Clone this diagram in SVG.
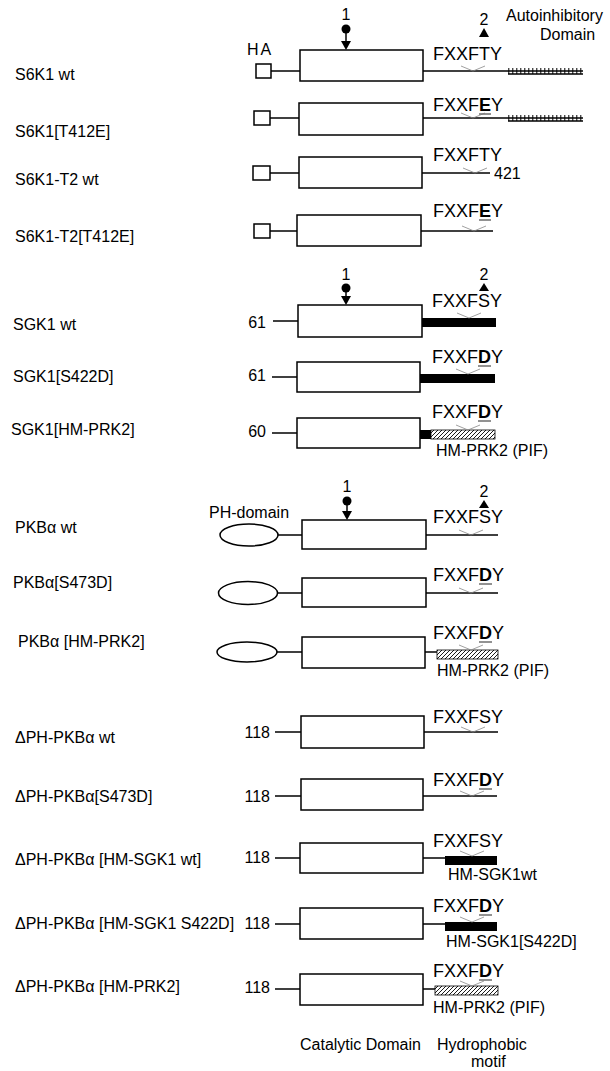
<svg xmlns="http://www.w3.org/2000/svg" width="610" height="1071" viewBox="0 0 610 1071">
<style>
text{font-family:"Liberation Sans",Arial,Helvetica,sans-serif;fill:#000}
.lbl{font-size:16px}
.num{font-size:16px}
.mot{font-size:18px}
.b{font-weight:bold}
.box{fill:#fff;stroke:#000;stroke-width:1.5}
.ln{stroke:#000;stroke-width:1.5;fill:none}
.chev{stroke:#888;stroke-width:0.8;fill:none}
.ul{stroke:#777;stroke-width:1.6}
.bar{fill:#000}
.hat{fill:url(#diag);stroke:#000;stroke-width:0.8}
.ell{fill:#fff;stroke:#000;stroke-width:1.5}
</style>
<defs>
<pattern id="diag" patternUnits="userSpaceOnUse" width="4" height="4">
<path d="M-1,1 l2,-2 M0,4 l4,-4 M3,5 l2,-2" stroke="#000" stroke-width="0.9"/>
</pattern>
<pattern id="ticks" patternUnits="userSpaceOnUse" width="4" height="8">
<line x1="0.8" y1="0" x2="0.8" y2="8" stroke="#000" stroke-width="1"/>
</pattern>
</defs>

<!-- S6K1 wt -->
<g id="s6k1-wt">
<text class="lbl" x="15" y="80">S6K1 wt</text>
<text class="lbl" x="247" y="55" letter-spacing="2">HA</text>
<rect class="box" x="256" y="64" width="15" height="14"/>
<line class="ln" x1="271" y1="71" x2="300" y2="71"/>
<rect class="box" x="300" y="50" width="123" height="31"/>
<line class="ln" x1="423" y1="71" x2="583" y2="71"/>
<rect x="508" y="68" width="75" height="6" fill="url(#ticks)"/>
<line class="ln" x1="508" y1="74" x2="583" y2="74" stroke-width="1"/>
<polyline class="chev" points="461,66 473,71 485,66"/>
<text class="mot" x="433" y="60">FXXFTY</text>
<text class="lbl" x="346" y="20" text-anchor="middle">1</text>
<circle cx="346" cy="29" r="4.5" fill="#000"/>
<line class="ln" x1="346" y1="33" x2="346" y2="42" stroke-width="1"/>
<polygon points="341,41 351,41 346,50" fill="#000"/>
<text class="lbl" x="484" y="25" text-anchor="middle">2</text>
<polygon points="479,37 489,37 484,28" fill="#000"/>
<text class="lbl" x="506" y="21">Autoinhibitory</text>
<text class="lbl" x="540" y="40">Domain</text>
</g>

<!-- S6K1[T412E] -->
<g id="s6k1-t412e">
<text class="lbl" x="15" y="137">S6K1[T412E]</text>
<rect class="box" x="254" y="111" width="16" height="14"/>
<line class="ln" x1="270" y1="118" x2="299" y2="118"/>
<rect class="box" x="299" y="103" width="124" height="32"/>
<line class="ln" x1="423" y1="118" x2="583" y2="118"/>
<rect x="508" y="115" width="75" height="6" fill="url(#ticks)"/>
<line class="ln" x1="508" y1="121" x2="583" y2="121" stroke-width="1"/>
<polyline class="chev" points="461,113 473,118 485,113"/>
<text class="mot" x="433" y="111">FXXF<tspan class="b">E</tspan>Y</text>
<line class="ul" x1="479" y1="114" x2="491" y2="114"/>
</g>

<!-- S6K1-T2 wt -->
<g id="s6k1-t2-wt">
<text class="lbl" x="15" y="185">S6K1-T2 wt</text>
<rect class="box" x="253" y="166" width="17" height="14"/>
<line class="ln" x1="270" y1="173" x2="299" y2="173"/>
<rect class="box" x="299" y="157" width="123" height="31"/>
<line class="ln" x1="422" y1="173" x2="490" y2="173"/>
<polyline class="chev" points="463,168 475,173 487,168"/>
<text class="mot" x="433" y="161">FXXFTY</text>
<text class="num" x="494" y="179">421</text>
</g>

<!-- S6K1-T2[T412E] -->
<g id="s6k1-t2-t412e">
<text class="lbl" x="15" y="242">S6K1-T2[T412E]</text>
<rect class="box" x="254" y="224" width="16" height="14"/>
<line class="ln" x1="270" y1="231" x2="297" y2="231"/>
<rect class="box" x="297" y="215" width="124" height="31"/>
<line class="ln" x1="421" y1="231" x2="493" y2="231"/>
<polyline class="chev" points="462,226 474,231 486,226"/>
<text class="mot" x="433" y="217">FXXF<tspan class="b">E</tspan>Y</text>
<line class="ul" x1="479" y1="220" x2="491" y2="220"/>
</g>

<!-- SGK1 wt -->
<g id="sgk1-wt">
<text class="lbl" x="13" y="330">SGK1 wt</text>
<text class="lbl" x="346" y="280" text-anchor="middle">1</text>
<circle cx="346" cy="288" r="4.5" fill="#000"/>
<line class="ln" x1="346" y1="292" x2="346" y2="297" stroke-width="1"/>
<polygon points="341,296 351,296 346,305" fill="#000"/>
<text class="lbl" x="484" y="280" text-anchor="middle">2</text>
<polygon points="479,291 489,291 484,283" fill="#000"/>
<text class="num" x="266" y="328" text-anchor="end">61</text>
<line class="ln" x1="273" y1="321" x2="298" y2="321"/>
<rect class="box" x="298" y="305" width="124" height="32"/>
<rect class="bar" x="422" y="318" width="74" height="9"/>
<polyline class="chev" points="457,313 469,318 481,313"/>
<text class="mot" x="432" y="307">FXXFSY</text>
</g>

<!-- SGK1[S422D] -->
<g id="sgk1-s422d">
<text class="lbl" x="13" y="382">SGK1[S422D]</text>
<text class="num" x="266" y="381" text-anchor="end">61</text>
<line class="ln" x1="272" y1="377" x2="297" y2="377"/>
<rect class="box" x="297" y="362" width="123" height="30"/>
<rect class="bar" x="420" y="374" width="75" height="9"/>
<polyline class="chev" points="456,369 468,374 480,369"/>
<text class="mot" x="432" y="363">FXXF<tspan class="b">D</tspan>Y</text>
<line class="ul" x1="478" y1="366" x2="491" y2="366"/>
</g>

<!-- SGK1[HM-PRK2] -->
<g id="sgk1-hm-prk2">
<text class="lbl" x="11" y="435">SGK1[HM-PRK2]</text>
<text class="num" x="266" y="437" text-anchor="end">60</text>
<line class="ln" x1="272" y1="433" x2="297" y2="433"/>
<rect class="box" x="297" y="418" width="123" height="30"/>
<rect class="bar" x="420" y="430" width="11" height="9"/>
<rect class="hat" x="431" y="430" width="64" height="9"/>
<polyline class="chev" points="456,425 468,430 480,425"/>
<text class="mot" x="432" y="418">FXXF<tspan class="b">D</tspan>Y</text>
<line class="ul" x1="478" y1="421" x2="491" y2="421"/>
<text class="lbl" x="436" y="456">HM-PRK2 (PIF)</text>
</g>

<!-- PKBa wt -->
<g id="pkb-wt">
<text class="lbl" x="15" y="533">PKBα wt</text>
<text class="lbl" x="209" y="518">PH-domain</text>
<text class="lbl" x="347" y="492" text-anchor="middle">1</text>
<circle cx="347" cy="501" r="4.5" fill="#000"/>
<line class="ln" x1="347" y1="505" x2="347" y2="512" stroke-width="1"/>
<polygon points="342,511 352,511 347,520" fill="#000"/>
<text class="lbl" x="484" y="497" text-anchor="middle">2</text>
<polygon points="479,508 489,508 484,500" fill="#000"/>
<ellipse class="ell" cx="249" cy="535" rx="29" ry="11"/>
<line class="ln" x1="278" y1="535" x2="302" y2="535"/>
<rect class="box" x="302" y="520" width="124" height="29"/>
<line class="ln" x1="426" y1="535" x2="498" y2="535"/>
<polyline class="chev" points="459,530 471,535 483,530"/>
<text class="mot" x="433" y="523">FXXFSY</text>
</g>

<!-- PKBa[S473D] -->
<g id="pkb-s473d">
<text class="lbl" x="13" y="588">PKBα[S473D]</text>
<ellipse class="ell" cx="248" cy="593" rx="29.5" ry="11.5"/>
<line class="ln" x1="277" y1="593" x2="302" y2="593"/>
<rect class="box" x="302" y="578" width="124" height="29"/>
<line class="ln" x1="426" y1="593" x2="498" y2="593"/>
<polyline class="chev" points="459,588 471,593 483,588"/>
<text class="mot" x="433" y="581">FXXF<tspan class="b">D</tspan>Y</text>
<line class="ul" x1="479" y1="584" x2="492" y2="584"/>
</g>

<!-- PKBa [HM-PRK2] -->
<g id="pkb-hm-prk2">
<text class="lbl" x="18" y="647">PKBα [HM-PRK2]</text>
<ellipse class="ell" cx="247" cy="652" rx="30" ry="10"/>
<line class="ln" x1="277" y1="652" x2="302" y2="652"/>
<rect class="box" x="302" y="637" width="123" height="31"/>
<line class="ln" x1="425" y1="652" x2="437" y2="652"/>
<rect class="hat" x="437" y="650" width="61" height="9"/>
<polyline class="chev" points="459,645 471,650 483,645"/>
<text class="mot" x="433" y="639">FXXF<tspan class="b">D</tspan>Y</text>
<line class="ul" x1="479" y1="642" x2="492" y2="642"/>
<text class="lbl" x="437" y="676">HM-PRK2 (PIF)</text>
</g>

<!-- dPH-PKBa wt -->
<g id="dph-wt">
<text class="lbl" x="15" y="743">ΔPH-PKBα wt</text>
<text class="num" x="270" y="738" text-anchor="end">118</text>
<line class="ln" x1="275" y1="732" x2="301" y2="732"/>
<rect class="box" x="301" y="716" width="123" height="32"/>
<line class="ln" x1="424" y1="732" x2="498" y2="732"/>
<polyline class="chev" points="461,727 473,732 485,727"/>
<text class="mot" x="433" y="723">FXXFSY</text>
</g>

<!-- dPH-PKBa[S473D] -->
<g id="dph-s473d">
<text class="lbl" x="15" y="802">ΔPH-PKBα[S473D]</text>
<text class="num" x="270" y="802" text-anchor="end">118</text>
<line class="ln" x1="275" y1="796" x2="301" y2="796"/>
<rect class="box" x="301" y="779" width="122" height="31"/>
<line class="ln" x1="423" y1="796" x2="497" y2="796"/>
<polyline class="chev" points="460,791 472,796 484,791"/>
<text class="mot" x="433" y="786">FXXF<tspan class="b">D</tspan>Y</text>
<line class="ul" x1="479" y1="789" x2="492" y2="789"/>
</g>

<!-- dPH-PKBa [HM-SGK1 wt] -->
<g id="dph-hm-sgk1-wt">
<text class="lbl" x="15" y="865">ΔPH-PKBα [HM-SGK1 wt]</text>
<text class="num" x="270" y="863" text-anchor="end">118</text>
<line class="ln" x1="275" y1="858" x2="300" y2="858"/>
<rect class="box" x="300" y="843" width="123" height="30"/>
<line class="ln" x1="423" y1="858" x2="445" y2="858"/>
<rect class="bar" x="445" y="856" width="52" height="9"/>
<polyline class="chev" points="460,851 472,856 484,851"/>
<text class="mot" x="433" y="847">FXXFSY</text>
<text class="lbl" x="448" y="880">HM-SGK1wt</text>
</g>

<!-- dPH-PKBa [HM-SGK1 S422D] -->
<g id="dph-hm-sgk1-s422d">
<text class="lbl" x="15" y="929">ΔPH-PKBα [HM-SGK1 S422D]</text>
<text class="num" x="270" y="929" text-anchor="end">118</text>
<line class="ln" x1="275" y1="924" x2="300" y2="924"/>
<rect class="box" x="300" y="908" width="123" height="31"/>
<line class="ln" x1="423" y1="924" x2="445" y2="924"/>
<rect class="bar" x="445" y="922" width="52" height="9"/>
<polyline class="chev" points="460,917 472,922 484,917"/>
<text class="mot" x="433" y="912">FXXF<tspan class="b">D</tspan>Y</text>
<line class="ul" x1="479" y1="915" x2="492" y2="915"/>
<text class="lbl" x="446" y="947">HM-SGK1[S422D]</text>
</g>

<!-- dPH-PKBa [HM-PRK2] -->
<g id="dph-hm-prk2">
<text class="lbl" x="15" y="992">ΔPH-PKBα [HM-PRK2]</text>
<text class="num" x="270" y="993" text-anchor="end">118</text>
<line class="ln" x1="275" y1="989" x2="300" y2="989"/>
<rect class="box" x="300" y="974" width="123" height="31"/>
<line class="ln" x1="423" y1="989" x2="435" y2="989"/>
<rect class="hat" x="435" y="986" width="63" height="9"/>
<polyline class="chev" points="460,981 472,986 484,981"/>
<text class="mot" x="433" y="977">FXXF<tspan class="b">D</tspan>Y</text>
<line class="ul" x1="479" y1="980" x2="492" y2="980"/>
<text class="lbl" x="433" y="1013">HM-PRK2 (PIF)</text>
</g>

<!-- axis labels -->
<g id="axis-labels">
<text class="lbl" x="300" y="1050">Catalytic Domain</text>
<text class="lbl" x="437" y="1050">Hydrophobic</text>
<text class="lbl" x="471" y="1067">motif</text>
</g>
</svg>
